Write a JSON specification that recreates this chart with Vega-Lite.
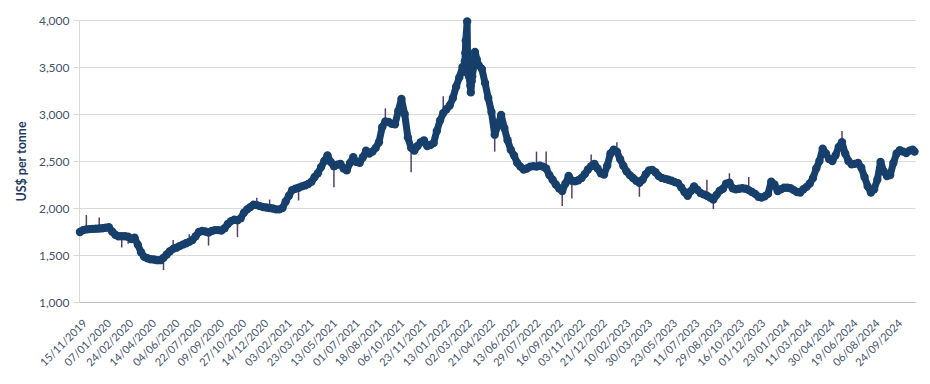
{
  "$schema": "https://vega.github.io/schema/vega-lite/v6.json",
  "width": 836,
  "height": 282,
  "autosize": "none",
  "padding": {"left": 79, "top": 20, "right": 15, "bottom": 82},
  "background": "white",
  "config": {"view": {"stroke": null}, "font": "Lato"},
  "data": {"values": [
    {"d":"2019-11-15","v":1745},{"d":"2019-11-22","v":1765},{"d":"2019-11-29","v":1772,"lo":1772,"hi":1925},{"d":"2019-12-06","v":1775},{"d":"2019-12-13","v":1778},{"d":"2019-12-20","v":1780},{"d":"2019-12-27","v":1782,"lo":1782,"hi":1900},
    {"d":"2020-01-03","v":1785},{"d":"2020-01-10","v":1790},{"d":"2020-01-17","v":1795},{"d":"2020-01-24","v":1750},{"d":"2020-01-31","v":1715},
    {"d":"2020-02-07","v":1700},{"d":"2020-02-14","v":1700,"lo":1580,"hi":1700},{"d":"2020-02-21","v":1700},{"d":"2020-02-28","v":1695,"lo":1620,"hi":1695},
    {"d":"2020-03-06","v":1670},{"d":"2020-03-13","v":1685},{"d":"2020-03-20","v":1610},{"d":"2020-03-27","v":1530,"lo":1530,"hi":1600},
    {"d":"2020-04-03","v":1480},{"d":"2020-04-10","v":1465},{"d":"2020-04-17","v":1455},{"d":"2020-04-24","v":1452},
    {"d":"2020-05-01","v":1445},{"d":"2020-05-08","v":1445},{"d":"2020-05-15","v":1470,"lo":1340,"hi":1470},{"d":"2020-05-22","v":1505},{"d":"2020-05-29","v":1540},
    {"d":"2020-06-05","v":1565,"lo":1565,"hi":1660},{"d":"2020-06-12","v":1578},{"d":"2020-06-19","v":1595},{"d":"2020-06-26","v":1610},
    {"d":"2020-07-03","v":1625},{"d":"2020-07-10","v":1640,"lo":1640,"hi":1720},{"d":"2020-07-17","v":1660},{"d":"2020-07-24","v":1700},{"d":"2020-07-31","v":1745},
    {"d":"2020-08-07","v":1755},{"d":"2020-08-14","v":1750},{"d":"2020-08-21","v":1740,"lo":1600,"hi":1740},{"d":"2020-08-28","v":1755},
    {"d":"2020-09-04","v":1765},{"d":"2020-09-11","v":1765},{"d":"2020-09-18","v":1760},{"d":"2020-09-25","v":1785},
    {"d":"2020-10-02","v":1830},{"d":"2020-10-09","v":1860},{"d":"2020-10-16","v":1875},{"d":"2020-10-23","v":1870,"lo":1690,"hi":1870},{"d":"2020-10-30","v":1890},
    {"d":"2020-11-06","v":1950},{"d":"2020-11-13","v":1985},{"d":"2020-11-20","v":2010},{"d":"2020-11-27","v":2035},
    {"d":"2020-12-04","v":2030,"lo":2030,"hi":2110},{"d":"2020-12-11","v":2020},{"d":"2020-12-18","v":2010},{"d":"2020-12-25","v":2005},
    {"d":"2021-01-01","v":2000,"lo":2000,"hi":2090},{"d":"2021-01-08","v":1995},{"d":"2021-01-15","v":1985},{"d":"2021-01-22","v":1985},{"d":"2021-01-29","v":2000},
    {"d":"2021-02-05","v":2070},{"d":"2021-02-12","v":2130},{"d":"2021-02-19","v":2190},{"d":"2021-02-26","v":2205},
    {"d":"2021-03-05","v":2215,"lo":2080,"hi":2215},{"d":"2021-03-12","v":2230},{"d":"2021-03-19","v":2240},{"d":"2021-03-26","v":2255},
    {"d":"2021-04-02","v":2280},{"d":"2021-04-09","v":2330},{"d":"2021-04-16","v":2370},{"d":"2021-04-23","v":2435},{"d":"2021-04-30","v":2500},
    {"d":"2021-05-07","v":2560},{"d":"2021-05-14","v":2490},{"d":"2021-05-21","v":2445,"lo":2220,"hi":2445},{"d":"2021-05-28","v":2460},
    {"d":"2021-06-04","v":2470},{"d":"2021-06-11","v":2420},{"d":"2021-06-18","v":2400},{"d":"2021-06-25","v":2480},
    {"d":"2021-07-02","v":2540},{"d":"2021-07-09","v":2490},{"d":"2021-07-16","v":2480},{"d":"2021-07-23","v":2540},{"d":"2021-07-30","v":2610},
    {"d":"2021-08-06","v":2580},{"d":"2021-08-13","v":2600},{"d":"2021-08-20","v":2640},{"d":"2021-08-27","v":2700},
    {"d":"2021-09-03","v":2860},{"d":"2021-09-10","v":2920,"lo":2920,"hi":3060},{"d":"2021-09-17","v":2915},{"d":"2021-09-24","v":2895},
    {"d":"2021-10-01","v":2890},{"d":"2021-10-08","v":3030},{"d":"2021-10-15","v":3160},{"d":"2021-10-22","v":3000},{"d":"2021-10-29","v":2750},
    {"d":"2021-11-05","v":2640,"lo":2380,"hi":2640},{"d":"2021-11-12","v":2610},{"d":"2021-11-19","v":2660},{"d":"2021-11-26","v":2700},
    {"d":"2021-12-03","v":2720},{"d":"2021-12-10","v":2660},{"d":"2021-12-17","v":2670},{"d":"2021-12-24","v":2690},{"d":"2021-12-31","v":2820},
    {"d":"2022-01-07","v":2930},{"d":"2022-01-14","v":3010,"lo":3010,"hi":3190},{"d":"2022-01-21","v":3050},{"d":"2022-01-28","v":3090},
    {"d":"2022-02-04","v":3170},{"d":"2022-02-11","v":3290},{"d":"2022-02-18","v":3390},{"d":"2022-02-25","v":3500},{"d":"2022-02-28","v":3450},
    {"d":"2022-03-01","v":3500},{"d":"2022-03-02","v":3560},{"d":"2022-03-03","v":3650},{"d":"2022-03-04","v":3780},{"d":"2022-03-07","v":3985},
    {"d":"2022-03-08","v":3550},{"d":"2022-03-09","v":3450},{"d":"2022-03-11","v":3400},{"d":"2022-03-14","v":3300},{"d":"2022-03-15","v":3230},
    {"d":"2022-03-17","v":3350},{"d":"2022-03-18","v":3400},{"d":"2022-03-22","v":3520},{"d":"2022-03-24","v":3660},{"d":"2022-03-25","v":3620},{"d":"2022-03-28","v":3580},
    {"d":"2022-04-01","v":3520},{"d":"2022-04-08","v":3480},{"d":"2022-04-15","v":3330},{"d":"2022-04-22","v":3170},{"d":"2022-04-29","v":3020},
    {"d":"2022-05-06","v":2780,"lo":2600,"hi":2780},{"d":"2022-05-13","v":2880},{"d":"2022-05-20","v":2990},{"d":"2022-05-27","v":2850},
    {"d":"2022-06-03","v":2720},{"d":"2022-06-10","v":2620},{"d":"2022-06-17","v":2560},{"d":"2022-06-24","v":2480},
    {"d":"2022-07-01","v":2440},{"d":"2022-07-08","v":2410},{"d":"2022-07-15","v":2420},{"d":"2022-07-22","v":2440},{"d":"2022-07-29","v":2445},
    {"d":"2022-08-05","v":2440,"lo":2440,"hi":2600},{"d":"2022-08-12","v":2450},{"d":"2022-08-19","v":2440},{"d":"2022-08-26","v":2420,"lo":2420,"hi":2600},
    {"d":"2022-09-02","v":2350},{"d":"2022-09-09","v":2300},{"d":"2022-09-16","v":2250},{"d":"2022-09-23","v":2210},{"d":"2022-09-30","v":2180,"lo":2020,"hi":2180},
    {"d":"2022-10-07","v":2260},{"d":"2022-10-14","v":2340},{"d":"2022-10-21","v":2290,"lo":2100,"hi":2290},{"d":"2022-10-28","v":2285},
    {"d":"2022-11-04","v":2295},{"d":"2022-11-11","v":2320},{"d":"2022-11-18","v":2360},{"d":"2022-11-25","v":2410},
    {"d":"2022-12-02","v":2445,"lo":2445,"hi":2570},{"d":"2022-12-09","v":2470},{"d":"2022-12-16","v":2420},{"d":"2022-12-23","v":2370},{"d":"2022-12-30","v":2355},
    {"d":"2023-01-06","v":2450},{"d":"2023-01-13","v":2580},{"d":"2023-01-20","v":2620},{"d":"2023-01-27","v":2600,"lo":2600,"hi":2700},
    {"d":"2023-02-03","v":2520},{"d":"2023-02-10","v":2450},{"d":"2023-02-17","v":2390},{"d":"2023-02-24","v":2350},
    {"d":"2023-03-03","v":2320},{"d":"2023-03-10","v":2290},{"d":"2023-03-17","v":2267,"lo":2120,"hi":2267},{"d":"2023-03-24","v":2300},{"d":"2023-03-31","v":2360},
    {"d":"2023-04-07","v":2400},{"d":"2023-04-14","v":2405},{"d":"2023-04-21","v":2380},{"d":"2023-04-28","v":2340},
    {"d":"2023-05-05","v":2320},{"d":"2023-05-12","v":2310},{"d":"2023-05-19","v":2300},{"d":"2023-05-26","v":2290},
    {"d":"2023-06-02","v":2275},{"d":"2023-06-09","v":2265},{"d":"2023-06-16","v":2220},{"d":"2023-06-23","v":2170},{"d":"2023-06-30","v":2130},
    {"d":"2023-07-07","v":2180},{"d":"2023-07-14","v":2230},{"d":"2023-07-21","v":2195},{"d":"2023-07-28","v":2160},
    {"d":"2023-08-04","v":2145},{"d":"2023-08-11","v":2130,"lo":2130,"hi":2300},{"d":"2023-08-18","v":2110},{"d":"2023-08-25","v":2090,"lo":1990,"hi":2090},
    {"d":"2023-09-01","v":2140},{"d":"2023-09-08","v":2185},{"d":"2023-09-15","v":2205},{"d":"2023-09-22","v":2260},{"d":"2023-09-29","v":2270,"lo":2270,"hi":2370},
    {"d":"2023-10-06","v":2210},{"d":"2023-10-13","v":2200},{"d":"2023-10-20","v":2205},{"d":"2023-10-27","v":2210},
    {"d":"2023-11-03","v":2205},{"d":"2023-11-10","v":2190,"lo":2190,"hi":2330},{"d":"2023-11-17","v":2170},{"d":"2023-11-24","v":2150},
    {"d":"2023-12-01","v":2120},{"d":"2023-12-08","v":2110},{"d":"2023-12-15","v":2125},{"d":"2023-12-22","v":2150},{"d":"2023-12-29","v":2280},
    {"d":"2024-01-05","v":2250},{"d":"2024-01-12","v":2180},{"d":"2024-01-19","v":2200},{"d":"2024-01-26","v":2215},
    {"d":"2024-02-02","v":2215},{"d":"2024-02-09","v":2210},{"d":"2024-02-16","v":2190},{"d":"2024-02-23","v":2170},
    {"d":"2024-03-01","v":2165},{"d":"2024-03-08","v":2200},{"d":"2024-03-15","v":2225},{"d":"2024-03-22","v":2260},{"d":"2024-03-29","v":2320},
    {"d":"2024-04-05","v":2420},{"d":"2024-04-12","v":2500},{"d":"2024-04-19","v":2630},{"d":"2024-04-26","v":2580},
    {"d":"2024-05-03","v":2520},{"d":"2024-05-10","v":2500},{"d":"2024-05-17","v":2560},{"d":"2024-05-24","v":2650},{"d":"2024-05-31","v":2700,"lo":2700,"hi":2820},
    {"d":"2024-06-07","v":2580},{"d":"2024-06-14","v":2500},{"d":"2024-06-21","v":2465},{"d":"2024-06-28","v":2470},
    {"d":"2024-07-05","v":2480},{"d":"2024-07-12","v":2430},{"d":"2024-07-19","v":2330},{"d":"2024-07-26","v":2230},
    {"d":"2024-08-02","v":2165},{"d":"2024-08-09","v":2200},{"d":"2024-08-16","v":2300},{"d":"2024-08-23","v":2490},{"d":"2024-08-30","v":2390},
    {"d":"2024-09-06","v":2340},{"d":"2024-09-13","v":2350},{"d":"2024-09-20","v":2480},{"d":"2024-09-27","v":2580},
    {"d":"2024-10-04","v":2615},{"d":"2024-10-11","v":2600},{"d":"2024-10-18","v":2585},{"d":"2024-10-25","v":2610},
    {"d":"2024-11-01","v":2620},{"d":"2024-11-05","v":2600}
  ]},
  "encoding": {
    "x": {
      "field": "d",
      "type": "temporal",
      "scale": {"type": "utc", "domain": [{"year": 2019, "month": 11, "date": 13, "utc": true}, {"year": 2024, "month": 11, "date": 6, "utc": true}]},
      "axis": {
        "title": null,
        "format": "%d/%m/%Y",
        "labelAngle": -45,
        "labelFont": "Lato",
        "labelFontSize": 11,
        "labelColor": "#44546a",
        "labelPadding": 15,
        "labelOffset": 1,
        "ticks": false,
        "grid": false,
        "domainColor": "#bfbfbf",
        "labelOverlap": false,
        "values": [
          {"year":2019,"month":11,"date":15,"utc":true},{"year":2020,"month":1,"date":7,"utc":true},{"year":2020,"month":2,"date":24,"utc":true},{"year":2020,"month":4,"date":14,"utc":true},
          {"year":2020,"month":6,"date":4,"utc":true},{"year":2020,"month":7,"date":22,"utc":true},{"year":2020,"month":9,"date":9,"utc":true},{"year":2020,"month":10,"date":27,"utc":true},
          {"year":2020,"month":12,"date":14,"utc":true},{"year":2021,"month":2,"date":3,"utc":true},{"year":2021,"month":3,"date":23,"utc":true},{"year":2021,"month":5,"date":13,"utc":true},
          {"year":2021,"month":7,"date":1,"utc":true},{"year":2021,"month":8,"date":18,"utc":true},{"year":2021,"month":10,"date":6,"utc":true},{"year":2021,"month":11,"date":23,"utc":true},
          {"year":2022,"month":1,"date":13,"utc":true},{"year":2022,"month":3,"date":2,"utc":true},{"year":2022,"month":4,"date":21,"utc":true},{"year":2022,"month":6,"date":13,"utc":true},
          {"year":2022,"month":7,"date":29,"utc":true},{"year":2022,"month":9,"date":16,"utc":true},{"year":2022,"month":11,"date":3,"utc":true},{"year":2022,"month":12,"date":21,"utc":true},
          {"year":2023,"month":2,"date":10,"utc":true},{"year":2023,"month":3,"date":30,"utc":true},{"year":2023,"month":5,"date":23,"utc":true},{"year":2023,"month":7,"date":11,"utc":true},
          {"year":2023,"month":8,"date":29,"utc":true},{"year":2023,"month":10,"date":16,"utc":true},{"year":2023,"month":12,"date":1,"utc":true},{"year":2024,"month":1,"date":23,"utc":true},
          {"year":2024,"month":3,"date":11,"utc":true},{"year":2024,"month":4,"date":30,"utc":true},{"year":2024,"month":6,"date":19,"utc":true},{"year":2024,"month":8,"date":6,"utc":true},
          {"year":2024,"month":9,"date":24,"utc":true}
        ]
      }
    },
    "y": {
      "field": "v",
      "type": "quantitative",
      "scale": {"domain": [1000, 4000]},
      "axis": {
        "title": "US$ per tonne",
        "titleFont": "Lato",
        "titleFontSize": 12.5,
        "titleFontWeight": "bold",
        "titleColor": "#1f3d63",
        "titlePadding": 10,
        "values": [1000, 1500, 2000, 2500, 3000, 3500, 4000],
        "format": ",.0f",
        "labelFont": "Lato",
        "labelFontSize": 12,
        "labelColor": "#44546a",
        "labelPadding": 4,
        "tickSize": 6,
        "tickColor": "#d9d9d9",
        "gridColor": "#d9d9d9",
        "domainColor": "#d9d9d9"
      }
    }
  },
  "layer": [
    {
      "transform": [{"filter": "isValid(datum.hi)"}],
      "mark": {"type": "rule", "color": "#55406a", "strokeWidth": 1.5},
      "encoding": {
        "y": {"field": "lo", "type": "quantitative"},
        "y2": {"field": "hi"}
      }
    },
    {
      "mark": {"type": "line", "color": "#173f6b", "strokeWidth": 7, "strokeJoin": "round", "strokeCap": "round",
               "point": {"filled": true, "size": 70, "color": "#173f6b", "opacity": 1}}
    }
  ]
}
